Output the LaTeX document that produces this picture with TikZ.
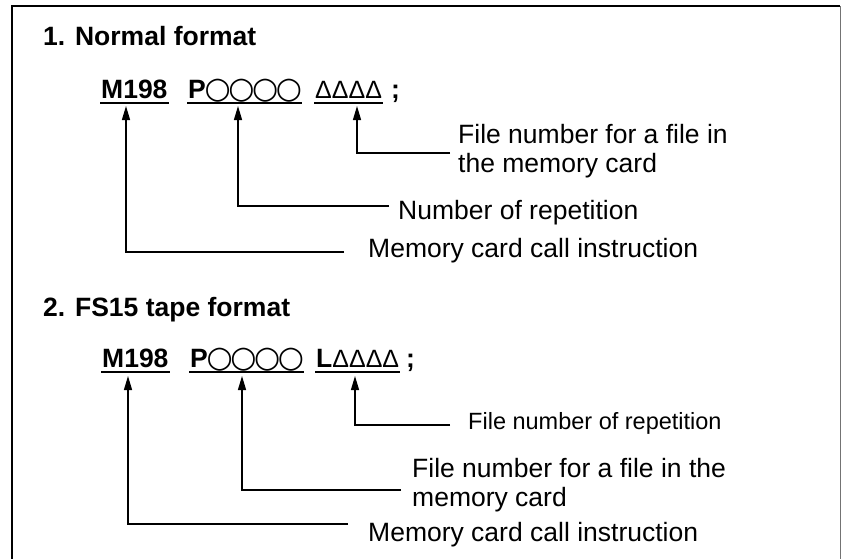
\documentclass[tikz,border=0pt]{standalone}
\usepackage{fontspec}
\setmainfont{Liberation Sans}
\newfontfamily\symfont{DejaVu Sans}
\usetikzlibrary{arrows.meta,calc}
\newcommand\ocir{\makebox[23.75pt][c]{\symfont\fontsize{30}{30}\selectfont ○}}
\newcommand\tri{{\fontsize{25}{25}\mdseries\selectfont Δ}}
\begin{document}
\begin{tikzpicture}[x=1pt,y=-1pt,
  txt/.style={inner sep=0pt, anchor=base west, font=\fontsize{26.5}{29}\selectfont},
  bld/.style={inner sep=0pt, anchor=base west, font=\fontsize{26.5}{29}\bfseries\selectfont},
  sml/.style={inner sep=0pt, anchor=base west, font=\fontsize{23.5}{27}\selectfont},
  arr/.style={line width=1.3pt, -{Triangle[length=14pt,width=8pt]}},
  uline/.style={line width=1.3pt}]
\clip (0,0) rectangle (850,558);
\useasboundingbox (0,0) rectangle (850,558);
% frame
\draw[line width=2pt] (12,600) -- (12,6) -- (840,6);
\draw[line width=1pt, black!55] (840,6) -- (840,600);

% ---------- section 1 ----------
\node[bld] (h1) at (43,45) {1. Normal format};
\node[bld] (m1) at (101,98) {M198};
\node[bld] (p1) at (188,98) {P\ocir\ocir\ocir\ocir};
\node[bld] (d1) at (315,98) {\tri\tri\tri\tri};
\node[bld] (s1) at (391,98) {;};
\foreach \n in {m1,p1,d1}
  \draw[uline] ($(\n.base west)+(-1,5)$) -- ($(\n.base east)+(1,5)$);

\node[txt] (a1) at (458,143) {File number for a file in};
\node[txt] (a1b) at (458,172) {the memory card};
\node[txt] (b1) at (398,219) {Number of repetition};
\node[txt] (c1) at (368,257) {Memory card call instruction};

\coordinate (ta1) at (357,106); \coordinate (ea1) at (450,153);
\coordinate (tb1) at (238,106); \coordinate (eb1) at (389,206);
\coordinate (tc1) at (126,106); \coordinate (ec1) at (344,252);
\draw[arr] (ea1) -| (ta1);
\draw[arr] (eb1) -| (tb1);
\draw[arr] (ec1) -| (tc1);

% ---------- section 2 ----------
\node[bld] (h2) at (43,316) {2. FS15 tape format};
\node[bld] (m2) at (102,367) {M198};
\node[bld] (p2) at (190,367) {P\ocir\ocir\ocir\ocir};
\node[bld] (d2) at (316,367) {L\tri\tri\tri\tri};
\node[bld] (s2) at (406,367) {;};
\foreach \n in {m2,p2,d2}
  \draw[uline] ($(\n.base west)+(-1,5)$) -- ($(\n.base east)+(1,5)$);

\node[sml] (a2) at (468,429) {File number of repetition};
\node[txt] (b2) at (412,477) {File number for a file in the};
\node[txt] (b2b) at (412,506) {memory card};
\node[txt] (c2) at (368,541) {Memory card call instruction};

\coordinate (ta2) at (355,376); \coordinate (ea2) at (450,425);
\coordinate (tb2) at (242,376); \coordinate (eb2) at (401,490);
\coordinate (tc2) at (128,376); \coordinate (ec2) at (348,524);
\draw[arr] (ea2) -| (ta2);
\draw[arr] (eb2) -| (tb2);
\draw[arr] (ec2) -| (tc2);
\end{tikzpicture}
\end{document}
